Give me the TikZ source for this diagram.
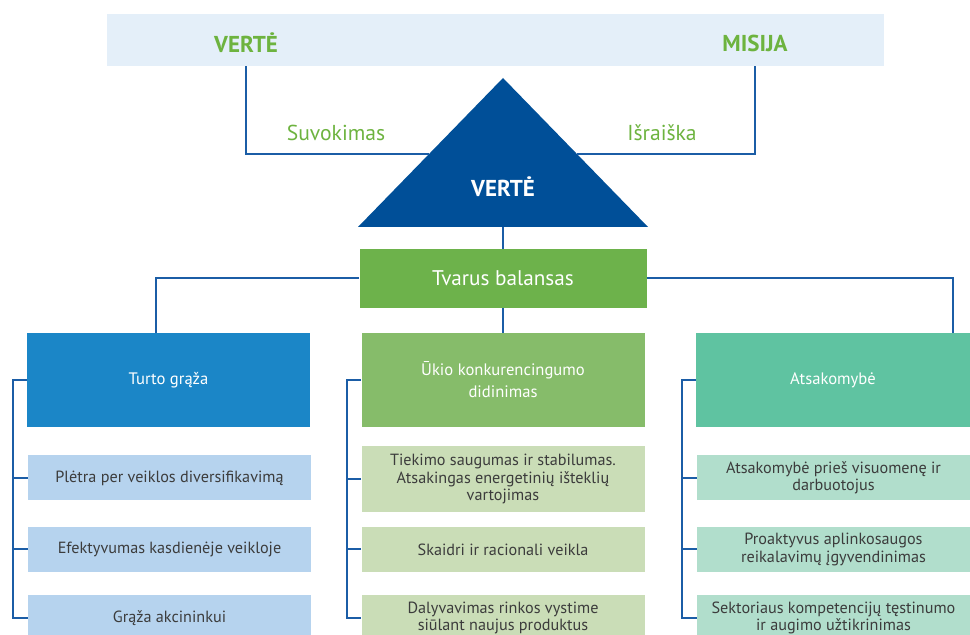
\documentclass[tikz,border=0pt]{standalone}
\usepackage{fontspec}
\setmainfont{PT Sans}
\usepackage{tikz}
\usetikzlibrary{calc}
\usetikzlibrary{positioning}
\definecolor{bandblue}{HTML}{E4EFF9}
\definecolor{txtgreen}{HTML}{6DB33F}
\definecolor{tridark}{HTML}{004F98}
\definecolor{linkblue}{HTML}{1B5DA6}
\definecolor{balgreen}{HTML}{6DB24B}
\definecolor{headA}{HTML}{1B86C7}
\definecolor{headB}{HTML}{86BC6A}
\definecolor{headC}{HTML}{5FC3A1}
\definecolor{itemA}{HTML}{B6D3EE}
\definecolor{itemB}{HTML}{CADDB7}
\definecolor{itemC}{HTML}{B1DECC}
\definecolor{itemtxt}{HTML}{3C3C3C}
\tikzset{link/.style={draw=linkblue,line width=1pt}}
\tikzset{toptxt/.style={text=txtgreen,font=\bfseries\fontsize{11.5}{13}\selectfont}}
\tikzset{sidetxt/.style={text=txtgreen,font=\fontsize{10.8}{12}\selectfont}}
\tikzset{head/.style={rectangle,inner sep=0pt,minimum height=47pt,text=white,align=center,font=\fontsize{8.3}{11}\selectfont}}
\tikzset{item/.style={rectangle,inner sep=0pt,text=itemtxt,align=center,font=\fontsize{8.1}{8.7}\selectfont}}

\begin{document}
\begin{tikzpicture}[x=0.5pt,y=-0.5pt]
\useasboundingbox (0,0) rectangle (970,635);
\node (band) at (495.5,40) [rectangle,fill=bandblue,minimum width=388.5pt,minimum height=26pt,inner sep=0pt] {};
\node (V) at (246,43) [toptxt] {VERTĖ};
\node (M) at (755,43) [toptxt] {MISIJA};

\coordinate (apex) at (503,78);
\coordinate (BL) at (358,227);
\coordinate (BR) at (648,227);
\fill[tridark] (apex) -- (BR) -- (BL) -- cycle;
\node (T) at (503,187) [text=white,font=\bfseries\fontsize{11.5}{13}\selectfont] {VERTĖ};
\coordinate (SL) at ($ (apex)!0.51!(BL) $);
\coordinate (SR) at ($ (apex)!0.51!(BR) $);
\coordinate (TB) at ($ (BL)!0.5!(BR) $);

\draw[link] (V |- band.south) |- (SL);
\draw[link] (M |- band.south) |- (SR);
\node (S) at (336,133) [sidetxt] {Suvokimas};
\node (I) at (662,133) [sidetxt] {Išraiška};

\node (B) at (503,278.5) [rectangle,fill=balgreen,minimum width=143.5pt,minimum height=29.5pt,inner sep=0pt,text=white,font=\fontsize{10.6}{12}\selectfont] {Tvarus balansas};
\draw[link] (TB) -- (B.north);

\node (K1) at (168.5,380) [head,fill=headA,minimum width=141.5pt] {Turto grąža};
\node (K2) at (503,380) [head,fill=headB,minimum width=141.5pt] {Ūkio konkurencingumo\\didinimas};
\node (K3) at (833,380) [head,fill=headC,minimum width=137pt] {Atsakomybė};
\draw[link] (B.west) -| ([xshift=-6.5pt]K1.north);
\draw[link] (B.east) -| ([xshift=60pt]K3.north);
\draw[link] (B.south) -- (K2.north);

\foreach \i / \x / \w / \h / \y / \c in {1/169.5/141.5/22.5/478/itemA,2/503/141.5/33/479/itemB,3/833.5/136.5/22.5/478/itemC}
{
	\node (P\i1) at (\x,\y) [item,fill=\c,minimum width=\w pt,minimum height=\h pt] {};
	\node (P\i2) at (\x,549.5) [item,fill=\c,minimum width=\w pt,minimum height=22.5pt] {};
	\node (P\i3) at (\x,618) [item,fill=\c,minimum width=\w pt,minimum height=23pt] {};
}

\node at (P11) [item] {Plėtra per veiklos diversifikavimą};
\node at (P12) [item] {Efektyvumas kasdienėje veikloje};
\node at (P13) [item] {Grąža akcininkui};
\node at (P21) [item] {Tiekimo saugumas ir stabilumas.\\Atsakingas energetinių išteklių\\vartojimas};
\node at (P22) [item] {Skaidri ir racionali veikla};
\node at (P23) [item] {Dalyvavimas rinkos vystime\\siūlant naujus produktus};
\node at (P31) [item] {Atsakomybė prieš visuomenę ir\\darbuotojus};
\node at (P32) [item] {Proaktyvus aplinkosaugos\\reikalavimų įgyvendinimas};
\node at (P33) [item] {Sektoriaus kompetencijų tęstinumo\\ir augimo užtikrinimas};

\foreach \i in {1,2,3}
{
	\draw[link] (K\i.west) -- ([xshift=-7pt]K\i.west) |- (P\i3.west);
	\foreach \j in {1,2}
	{
		\draw[link] (P\i\j.west) -- ([xshift=-7pt]P\i\j.west -| K\i.west);
	}
}
\end{tikzpicture}
\end{document}
